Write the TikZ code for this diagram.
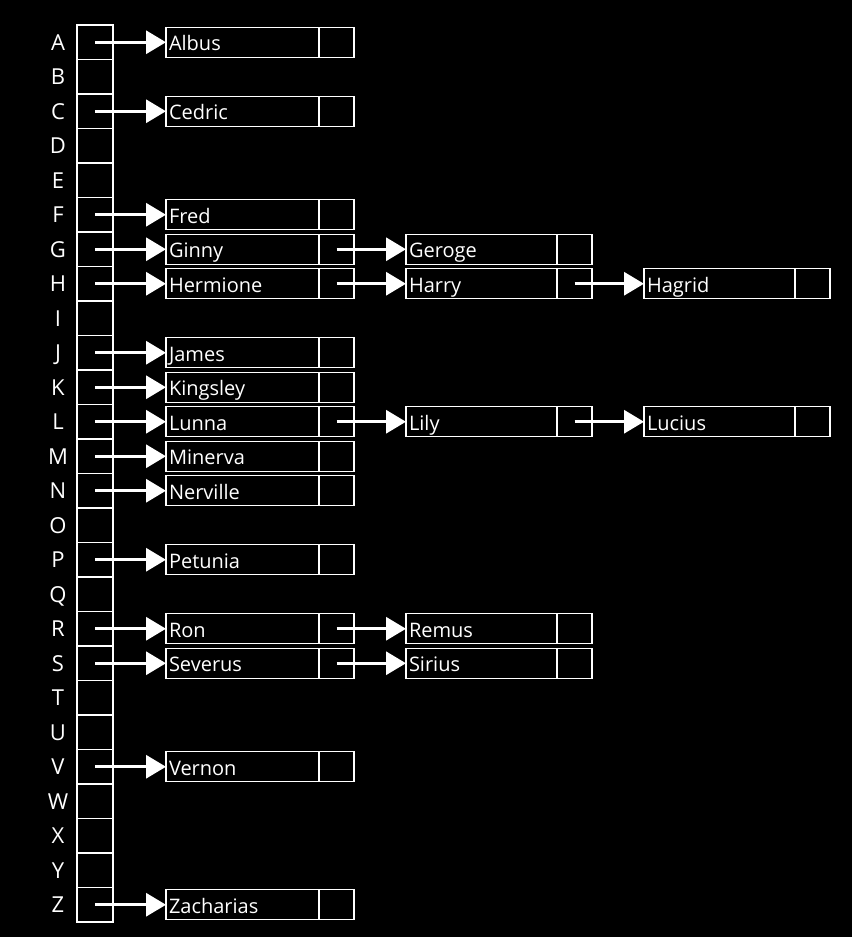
\documentclass[tikz,border=0pt]{standalone}
\usepackage{fontspec}
\setmainfont{Open Sans}
\usetikzlibrary{arrows.meta, positioning}
\tikzset{
	slot/.style    ={rectangle, draw=white, line width=1.3pt, minimum width=36pt, minimum height=34.5pt, inner sep=0pt, outer sep=0pt},
	letter/.style  ={text=white, font=\fontsize{22}{22}\selectfont, text height=15.5pt, text depth=0pt, inner sep=0pt},
	namebox/.style ={rectangle, draw=white, line width=1.3pt, minimum width=153pt, minimum height=30pt, text width=147pt, align=left, inner sep=3pt, outer sep=0pt, text=white, text height=18pt, text depth=1pt, font=\fontsize{20}{20}\selectfont},
	outer/.style   ={text width=145pt, minimum width=151pt},
	ptrbox/.style  ={rectangle, draw=white, line width=1.3pt, minimum width=35pt, minimum height=30pt, inner sep=0pt, outer sep=0pt},
	link/.style    ={-{Triangle[length=20pt, width=23pt]}, draw=white, line width=3.2pt},
}

\begin{document}
\begin{tikzpicture}[x=1pt, y=-1pt, node distance=53pt]
	\fill[black] (0,0) rectangle (852,937);
	\useasboundingbox (0,0) rectangle (852,937);
	% the table of letters
	\foreach \l [count=\i from 0] in {A,B,C,D,E,F,G,H,I,J,K,L,M,N,O,P,Q,R,S,T,U,V,W,X,Y,Z} {
		\node[slot] (s\l) at (95, 42.25+34.5*\i) {};
		\node[letter] (t\l) at (58, 42.25+34.5*\i) {\l};
	}
	% first level
	\node[namebox, right=of sA] (albus) {Albus};       \node[ptrbox, right=0pt of albus] (albus-p) {};
	\node[namebox, right=of sC] (cedric) {Cedric};     \node[ptrbox, right=0pt of cedric] (cedric-p) {};
	\node[namebox, right=of sF] (fred) {Fred};         \node[ptrbox, right=0pt of fred] (fred-p) {};
	\node[namebox, right=of sG] (ginny) {Ginny};       \node[ptrbox, right=0pt of ginny] (ginny-p) {};
	\node[namebox, right=of sH] (hermione) {Hermione}; \node[ptrbox, right=0pt of hermione] (hermione-p) {};
	\node[namebox, right=of sJ] (james) {James};       \node[ptrbox, right=0pt of james] (james-p) {};
	\node[namebox, right=of sK] (kingsley) {Kingsley}; \node[ptrbox, right=0pt of kingsley] (kingsley-p) {};
	\node[namebox, right=of sL] (lunna) {Lunna};       \node[ptrbox, right=0pt of lunna] (lunna-p) {};
	\node[namebox, right=of sM] (minerva) {Minerva};   \node[ptrbox, right=0pt of minerva] (minerva-p) {};
	\node[namebox, right=of sN] (nerville) {Nerville}; \node[ptrbox, right=0pt of nerville] (nerville-p) {};
	\node[namebox, right=of sP] (petunia) {Petunia};   \node[ptrbox, right=0pt of petunia] (petunia-p) {};
	\node[namebox, right=of sR] (ron) {Ron};           \node[ptrbox, right=0pt of ron] (ron-p) {};
	\node[namebox, right=of sS] (severus) {Severus};   \node[ptrbox, right=0pt of severus] (severus-p) {};
	\node[namebox, right=of sV] (vernon) {Vernon};     \node[ptrbox, right=0pt of vernon] (vernon-p) {};
	\node[namebox, right=of sZ] (zacharias) {Zacharias}; \node[ptrbox, right=0pt of zacharias] (zacharias-p) {};
	% second level
	\node[namebox, outer, right=52pt of ginny-p] (geroge) {Geroge};    \node[ptrbox, right=0pt of geroge] (geroge-p) {};
	\node[namebox, outer, right=52pt of hermione-p] (harry) {Harry};   \node[ptrbox, right=0pt of harry] (harry-p) {};
	\node[namebox, outer, right=52pt of lunna-p] (lily) {Lily};        \node[ptrbox, right=0pt of lily] (lily-p) {};
	\node[namebox, outer, right=52pt of ron-p] (remus) {Remus};        \node[ptrbox, right=0pt of remus] (remus-p) {};
	\node[namebox, outer, right=52pt of severus-p] (sirius) {Sirius};  \node[ptrbox, right=0pt of sirius] (sirius-p) {};
	% third level
	\node[namebox, outer, right=52pt of harry-p] (hagrid) {Hagrid};    \node[ptrbox, right=0pt of hagrid] (hagrid-p) {};
	\node[namebox, outer, right=52pt of lily-p] (lucius) {Lucius};     \node[ptrbox, right=0pt of lucius] (lucius-p) {};
	% links
	\draw[link] (sA.center) -- (albus);  \draw[link] (sC.center) -- (cedric);  \draw[link] (sF.center) -- (fred);
	\draw[link] (sG.center) -- (ginny);  \draw[link] (sH.center) -- (hermione); \draw[link] (sJ.center) -- (james);
	\draw[link] (sK.center) -- (kingsley); \draw[link] (sL.center) -- (lunna); \draw[link] (sM.center) -- (minerva);
	\draw[link] (sN.center) -- (nerville); \draw[link] (sP.center) -- (petunia); \draw[link] (sR.center) -- (ron);
	\draw[link] (sS.center) -- (severus); \draw[link] (sV.center) -- (vernon); \draw[link] (sZ.center) -- (zacharias);
	\draw[link] (ginny-p.center) -- (geroge);  \draw[link] (hermione-p.center) -- (harry);
	\draw[link] (lunna-p.center) -- (lily);    \draw[link] (ron-p.center) -- (remus);
	\draw[link] (severus-p.center) -- (sirius);
	\draw[link] (harry-p.center) -- (hagrid);  \draw[link] (lily-p.center) -- (lucius);
\end{tikzpicture}
\end{document}
